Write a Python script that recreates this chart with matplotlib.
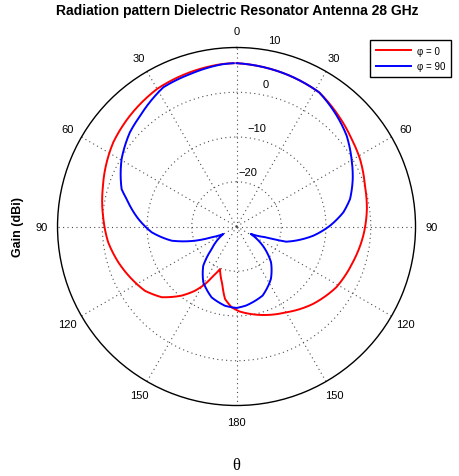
import numpy as np
import matplotlib
matplotlib.use('Agg')
import matplotlib.pyplot as plt

plt.rcParams['font.family'] = ['Liberation Sans', 'DejaVu Sans']

# angle in degrees (clockwise from top) and gain in dBi
theta_phi0 = [0, 18, 31.7, 43, 52.8, 61.3, 72.4, 82.3, 94.1, 107, 121.4, 135.5, 150,
              165.5, 178, 183.4, 189, 194, 201.2, 205.2, 208.7, 212.9, 218.4, 226.6,
              234.9, 243.4, 253.2, 263, 273.2, 286, 304.3, 316, 330, 343, 355, 359]
gain_phi0 = [6.5, 5.8, 5.2, 3.6, 2.3, 1.45, 0.1, -0.6, -1.6, -2.8, -3.9, -5.7, -7.85,
             -9.6, -11.0, -11.9, -13.6, -16.8, -19.8, -17.8, -15.3, -12.9, -10.3, -7.0,
             -5.0, -3.8, -2.4, -1.1, -0.2, 1.1, 3.35, 4.35, 5.5, 6.0, 6.45, 6.5]

theta_phi90 = [0, 18, 31.7, 42.1, 50.5, 59.6, 67.8, 76.4, 82.4, 89.5, 96.8, 100.7, 107,
               110, 117.3, 126.2, 136, 146.7, 159.3, 173.2, 180, 188.3, 199.3, 210.8,
               220.3, 227.8, 240.4, 246.5, 251.1, 257.6, 266.1, 274.4, 284, 288, 300.5,
               311.5, 319, 332.3, 343, 355, 359]
gain_phi90 = [6.5, 5.8, 5.2, 3.4, 1.9, -0.2, -1.95, -3.9, -5.9, -9.1, -12.7, -14.9, -18.4,
              -23.0, -26.4, -22.7, -18.9, -16.0, -13.5, -12.2, -11.8, -12.1, -13.2, -15.5,
              -18.5, -22.5, -26.6, -24.0, -20.2, -15.2, -11.0, -8.0, -4.7, -3.0, -0.2,
              1.8, 2.8, 5.15, 5.6, 6.4, 6.5]

theta_ticks = [0, 30, 60, 90, 120, 150, 180, 210, 240, 270, 300, 330]
theta_labels = ['0', '30', '60', '90', '120', '150', '180', '150', '120', '90', '60', '30']
r_ticks = [-20, -10, 0, 10]
r_min, r_max = -30, 10

fig = plt.figure(figsize=(4.59, 4.77), dpi=100)
ax = fig.add_axes([0.1253, 0.1478, 0.78, 0.7505], projection='polar')
ax.set_theta_zero_location('N')
ax.set_theta_direction(-1)
ax.set_ylim(r_min, r_max)

ax.set_thetagrids(theta_ticks, labels=[''] * len(theta_ticks))
ax.set_rgrids(r_ticks[:-1], labels=[''] * (len(r_ticks) - 1))
ax.grid(True, linestyle=(0, (1, 3)), color='0.3', linewidth=0.8)
ax.spines['polar'].set_color('black')
ax.spines['polar'].set_linewidth(1.0)

l1, = ax.plot(np.deg2rad(theta_phi0), gain_phi0, color='#ff0000', lw=1.4, label='φ = 0')
l2, = ax.plot(np.deg2rad(theta_phi90), gain_phi90, color='#0000ff', lw=1.4, label='φ = 90')
# draw segments as arcs in polar space
for ln in (l1, l2):
    ln.get_path()._interpolation_steps = 30

# angle labels
for t, lab in zip(theta_ticks, theta_labels):
    ax.text(np.deg2rad(t), 13.6, lab, ha='center', va='center', fontsize=8)

# radial labels
for r, lab in zip(r_ticks, ['\u221220', '\u221210', '0', '10']):
    d = (r - r_min) / (r_max - r_min) * 179 + 11
    ax.text(np.deg2rad(11.5), r_min + d / 179 * (r_max - r_min), lab,
            ha='center', va='center', fontsize=8)

ax.legend(handles=[l1, l2], loc='upper left', bbox_to_anchor=(370 / 459, 1 - 41 / 477),
          bbox_transform=fig.transFigure, borderaxespad=0, fontsize=7, fancybox=False,
          edgecolor='black', framealpha=1, handlelength=3.6, handletextpad=0.6,
          borderpad=0.6, labelspacing=0.55)
ax.get_legend().get_frame().set_linewidth(1.0)

fig.text(237.5 / 459, 1 - 11 / 477, 'Radiation pattern Dielectric Resonator Antenna 28 GHz',
         ha='center', va='center', fontsize=10, fontweight='bold')
fig.text(18 / 459, 1 - 227 / 477, 'Gain (dBi)', ha='center', va='center',
         rotation=90, fontsize=9, fontweight='bold')
fig.text(236 / 459, 1 - 466 / 477, 'θ', ha='center', va='center', fontsize=12,
         family=['Liberation Serif', 'DejaVu Serif'])

plt.savefig('out.png', dpi=100)
